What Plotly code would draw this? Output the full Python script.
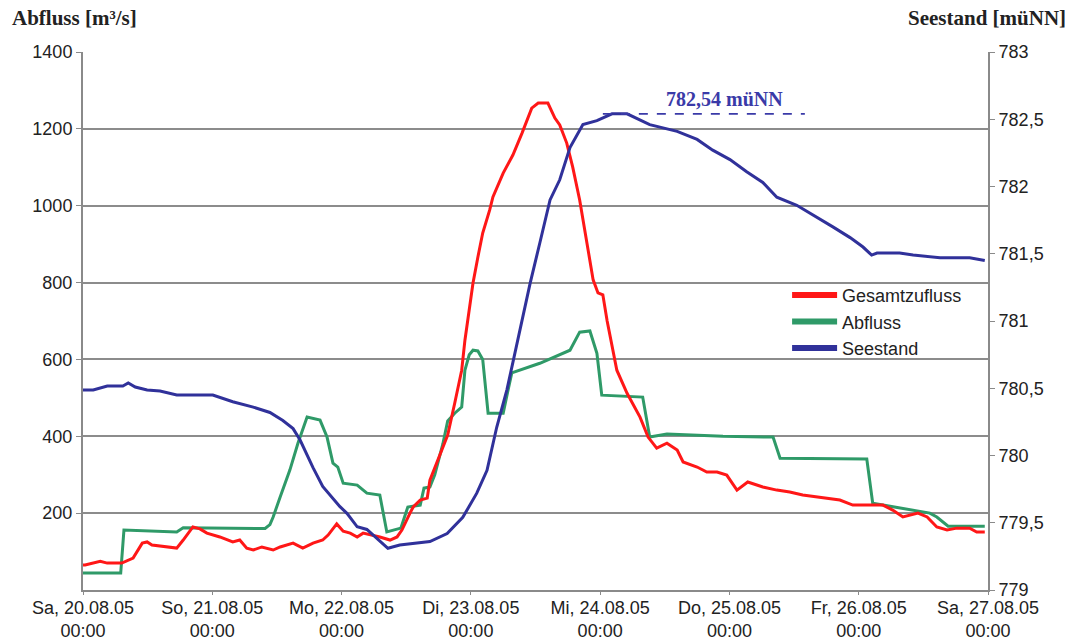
import pandas as pd
import plotly.graph_objects as go

# ---------------- data ----------------
start = "2005-08-20 00:00"
n_days = 7
day_names = ["Sa", "So", "Mo", "Di", "Mi", "Do", "Fr", "Sa"]

# Gesamtzufluss [m3/s]  (hours since start, value)
zufluss_h = [0.0, 0.4, 3.2, 4.5, 7.2, 9.3, 11.0, 11.9, 12.8, 15.6, 17.4, 18.6, 20.4, 21.7,
             23.0, 25.4, 27.8, 29.1, 30.4, 31.6, 33.2, 35.3, 36.6, 39.0, 40.8, 42.7, 44.5,
             45.5, 47.1, 48.3, 49.6, 50.9, 52.0, 55.1, 57.0, 58.3, 59.2, 60.7, 61.3, 62.6,
             63.9, 64.4, 66.8, 67.7, 69.0, 70.3, 70.9, 72.4, 73.3, 74.2, 75.5, 76.1, 78.0,
             79.8, 81.5, 83.3, 84.5, 86.3, 87.6, 88.5, 89.8, 90.9, 92.2, 93.5, 94.7, 95.6,
             96.5, 97.3, 98.4, 99.1, 101.0, 103.4, 104.9, 106.5, 108.4, 110.3, 111.4, 114.0,
             115.8, 117.7, 119.5, 121.4, 123.4, 126.2, 128.8, 131.2, 133.6, 137.4, 140.5,
             142.9, 148.5, 150.3, 152.2, 155.0, 156.7, 158.5, 160.4, 162.2, 164.6, 165.9, 167.4]
zufluss_q = [65, 65, 75, 70, 70, 83, 122, 125, 117, 112, 109, 130, 164, 159,
             148, 138, 125, 130, 109, 104, 112, 104, 112, 122, 109, 122, 130,
             143, 172, 153, 148, 138, 148, 138, 130, 138, 156, 200, 216, 234,
             239, 286, 372, 403, 486, 572, 650, 799, 866, 929, 989, 1023, 1085,
             1132, 1189, 1254, 1267, 1267, 1228, 1210, 1163, 1101, 1015, 911, 807, 773,
             768, 700, 624, 572, 512, 450, 398, 369, 382, 364, 333, 320,
             307, 307, 299, 260, 281, 268, 260, 255, 247, 239, 234,
             221, 221, 208, 190, 200, 190, 164, 156, 161, 161, 151, 151]

# Abfluss [m3/s]
abfluss_h = [0.0, 7.0, 7.6, 15.6, 17.4, 18.6, 33.8, 34.7, 35.3, 36.6, 38.4, 39.9, 41.6,
             44.0, 45.3, 46.4, 47.3, 48.3, 50.9, 52.7, 55.1, 56.4, 59.0, 60.3, 62.6, 63.3,
             64.4, 65.3, 66.8, 67.7, 69.0, 70.3, 70.9, 71.7, 72.4, 73.3, 74.2, 75.2, 78.0,
             78.9, 79.6, 84.8, 90.4, 92.2, 94.1, 95.4, 96.3, 103.9, 105.2, 108.4, 118.8,
             128.1, 129.4, 145.5, 146.6, 148.5, 152.2, 157.2, 158.5, 160.6, 167.4]
abfluss_q = [44, 44, 156, 153, 151, 162, 160, 170, 190, 242, 312, 382, 450,
             442, 398, 330, 320, 278, 273, 252, 247, 151, 161, 216, 221, 265,
             268, 300, 380, 440, 460, 476, 572, 612, 624, 622, 600, 460, 460,
             520, 565, 590, 624, 671, 674, 616, 507, 502, 398, 406, 400,
             398, 343, 341, 226, 221, 212, 200, 190, 166, 166]

# Seestand [muNN]
see_h = [0.0, 1.9, 4.5, 7.4, 8.4, 9.7, 11.9, 14.3, 17.4, 24.1, 27.8, 31.6, 34.7, 37.1,
         39.0, 40.3, 42.7, 44.5, 47.7, 49.0, 50.9, 52.7, 56.6, 58.8, 64.4, 67.6, 70.5,
         73.1, 75.0, 76.8, 78.7, 81.1, 83.0, 84.8, 86.7, 88.5, 90.4, 92.8, 95.4, 98.2,
         101.0, 105.2, 107.1, 110.3, 114.0, 116.9, 120.1, 123.2, 126.2, 128.8, 132.5,
         135.5, 139.2, 142.4, 144.8, 146.4, 147.4, 151.6, 154.1, 159.1, 164.6, 167.4]
see_s = [780.487, 780.487, 780.517, 780.517, 780.539, 780.509, 780.487, 780.48, 780.45,
         780.45, 780.40, 780.36, 780.32, 780.26, 780.20, 780.115, 779.91, 779.77, 779.62,
         779.57, 779.47, 779.45, 779.31, 779.335, 779.36, 779.42, 779.54, 779.72, 779.89,
         780.21, 780.49, 780.93, 781.28, 781.58, 781.90, 782.05, 782.29, 782.46, 782.49,
         782.54, 782.54, 782.46, 782.44, 782.41, 782.35, 782.27, 782.20, 782.11, 782.03,
         781.92, 781.86, 781.79, 781.70, 781.62, 781.55, 781.49, 781.505, 781.505, 781.49,
         781.47, 781.47, 781.45]

peak_level = 782.54
peak_line_h = [96.5, 134.0]   # span of the dashed peak marker

left_ticks = [200, 400, 600, 800, 1000, 1200, 1400]
right_ticks = [779, 779.5, 780, 780.5, 781, 781.5, 782, 782.5, 783]

series_names = ["Gesamtzufluss", "Abfluss", "Seestand"]
colors = {"Gesamtzufluss": "#ff1717", "Abfluss": "#2f9a68", "Seestand": "#30319a"}

# ---------------- build ----------------
t0 = pd.Timestamp(start)
def to_t(hours):
    return [t0 + pd.Timedelta(hours=h) for h in hours]

day_ticks = pd.date_range(t0, periods=n_days + 1, freq="D")
tick_text = [f"{d}, {ts.strftime('%d.%m.%y')}<br>{ts.strftime('%H:%M')}"
             for d, ts in zip(day_names, day_ticks)]
right_text = [(f"{v:g}").replace(".", ",") for v in right_ticks]

font_sans = "Liberation Sans, Arial, sans-serif"
font_serif = "Liberation Serif, Times New Roman, serif"

fig = go.Figure()
fig.add_trace(go.Scatter(x=to_t(abfluss_h), y=abfluss_q, mode="lines", name="Abfluss",
                         line=dict(color=colors["Abfluss"], width=3), showlegend=False))
fig.add_trace(go.Scatter(x=to_t(zufluss_h), y=zufluss_q, mode="lines", name="Gesamtzufluss",
                         line=dict(color=colors["Gesamtzufluss"], width=3), showlegend=False))
fig.add_trace(go.Scatter(x=to_t(see_h), y=see_s, mode="lines", name="Seestand", yaxis="y2",
                         line=dict(color=colors["Seestand"], width=3), showlegend=False))
# legend entries (thicker sample lines)
for nm in series_names:
    fig.add_trace(go.Scatter(x=[None], y=[None], mode="lines", name=nm,
                             line=dict(color=colors[nm], width=6), showlegend=True))

# peak marker
pk_t = to_t(peak_line_h)
fig.add_shape(type="line", xref="x", yref="y2", x0=pk_t[0], x1=pk_t[1],
              y0=peak_level, y1=peak_level,
              line=dict(color="#3a3aa8", width=1.8, dash="dash"))
fig.add_annotation(xref="x", yref="y2", x=pk_t[0] + (pk_t[1] - pk_t[0]) * 0.6, y=peak_level,
                   yshift=15, showarrow=False,
                   text="<b>" + f"{peak_level:.2f}".replace(".", ",") + " müNN</b>",
                   font=dict(family=font_serif, size=20, color="#3a3aa8"))

# (the page body has an 8px default margin, so the figure is sized/offset to compensate)
fig.add_annotation(xref="paper", yref="paper", x=-0.081, y=1.063, xanchor="left", yanchor="middle",
                   showarrow=False, text="<b>Abfluss [m³/s]</b>",
                   font=dict(family=font_serif, size=21, color="#222"))
fig.add_annotation(xref="paper", yref="paper", x=1.0886, y=1.063, xanchor="right", yanchor="middle",
                   showarrow=False, text="<b>Seestand [müNN]</b>",
                   font=dict(family=font_serif, size=21, color="#222"))

axis_col = "#8a8a8a"
fig.update_layout(
    width=1065, height=634,
    margin=dict(l=75, r=85, t=44, b=52, autoexpand=False),
    paper_bgcolor="white", plot_bgcolor="white",
    font=dict(family=font_sans, size=18, color="#222"),
    xaxis=dict(type="date", range=[day_ticks[0], day_ticks[-1]], automargin=False,
               tickvals=list(day_ticks), ticktext=tick_text, ticklabelstandoff=-3,
               showgrid=False, zeroline=False, showline=True, linecolor=axis_col, linewidth=2,
               ticks="outside", ticklen=3, tickcolor=axis_col, tickfont=dict(size=18)),
    yaxis=dict(range=[0, 1400], tickvals=left_ticks, showgrid=True, gridcolor="#8c8c8c",
               gridwidth=1.6, zeroline=False, showline=True, linecolor=axis_col, linewidth=2,
               automargin=False,
               ticks="outside", ticklen=5, tickcolor=axis_col, tickfont=dict(size=18)),
    yaxis2=dict(range=[779, 783], overlaying="y", side="right", tickvals=right_ticks,
                ticktext=right_text, showgrid=False, zeroline=False, showline=True,
                automargin=False,
                linecolor=axis_col, linewidth=2, ticks="outside", ticklen=5,
                tickcolor=axis_col, tickfont=dict(size=18)),
    legend=dict(x=0.778, y=0.582, xanchor="left", yanchor="top", bgcolor="rgba(0,0,0,0)",
                font=dict(size=18, color="#222"), itemwidth=45, tracegroupgap=0),
    showlegend=True,
)

fig.write_html("out.html")
